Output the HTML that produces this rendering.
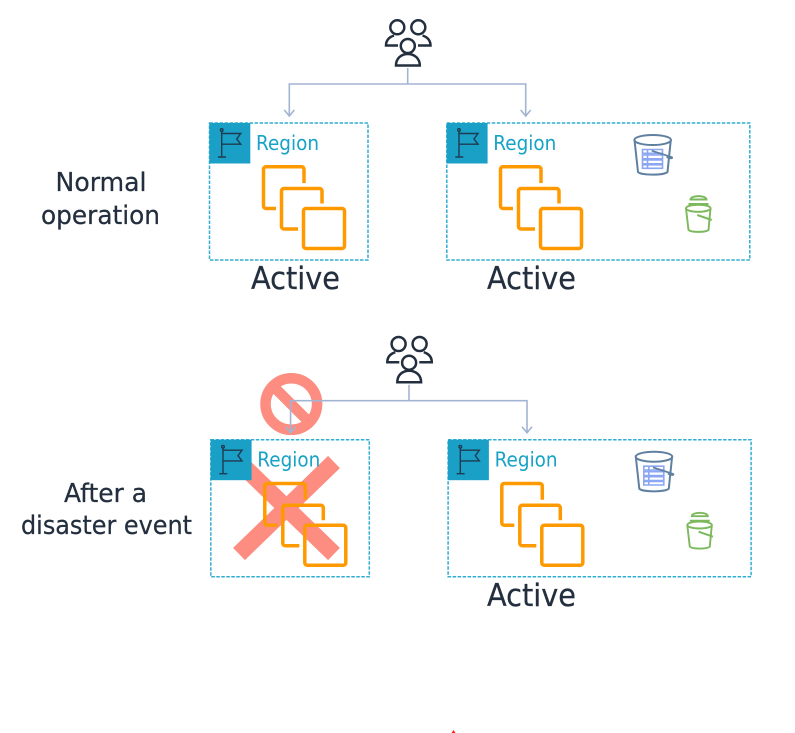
<!DOCTYPE html>
<html><head><meta charset="utf-8"><style>
html,body{margin:0;padding:0;background:#fff;width:795px;height:733px;overflow:hidden}
svg{display:block;filter:blur(.35px)}
text{font-family:"DejaVu Sans","Liberation Sans",sans-serif}
.d{fill:#232f3e;stroke:#232f3e;stroke-width:.25px}
</style></head><body>
<svg width="795" height="733" viewBox="0 0 795 733" xmlns="http://www.w3.org/2000/svg">
<defs>
<g id="users" fill="none" stroke="#232f3e" stroke-width="2.500">
<circle cx="397.300" cy="27.300" r="7"/><circle cx="418.300" cy="27.300" r="7"/><circle cx="407.800" cy="46" r="7"/>
<path d="M396 65.500c0-7 5-11.500 11.800-11.500s12 4.500 12 11.500z"/>
<path d="M398 45.500H386c0-5.500 3.500-8.500 8-10M418 45.500h12.500c0-5.500-3.500-8.500-8-10"/>
</g>
<g id="conn" fill="none" stroke="#a2b4d2" stroke-width="1.600">
<path d="M407.700 68V84M289.300 116V84H525.700V116M284.300 110l5 6 5-6M520.700 110l5 6 5-6"/>
</g>
<g id="tile">
<rect x="209.300" y="123" width="41" height="40.500" fill="#1a9fc6"/>
<g fill="none" stroke="#1f3b50" stroke-width="1.400">
<path d="M221.700 131.500V157M218 157h8M221.700 133.500h19l-4 5.500 4 5.200h-19"/>
<circle cx="221.700" cy="130" r="1.300"/>
</g>
<text x="256" y="150" font-size="20" fill="#17a2c6" textLength="63" lengthAdjust="spacingAndGlyphs">Region</text>
</g>
<g id="squares" fill="none" stroke="#ff9900" stroke-width="3.500" stroke-linejoin="round">
<path d="M304 183V169.300a2.500 2.500 0 0 0-2.500-2.500H266a2.500 2.500 0 0 0-2.500 2.500V206a2.500 2.500 0 0 0 2.500 2.500H276"/>
<path d="M322 203.500V191a2.500 2.500 0 0 0-2.500-2.500H284a2.500 2.500 0 0 0-2.500 2.500V226.500a2.500 2.500 0 0 0 2.500 2.500H298"/>
<rect x="303.500" y="208.500" width="41" height="40" rx="2.500"/>
</g>
<g id="s3">
<g fill="none" stroke="#8ba6f2" stroke-width="1.600">
<path d="M642.500 149.500h20v3.800h-20zM642.500 155h20v3.800h-20zM642.500 160h20v3.800h-20zM642.500 164.800h20v3.500h-20zM647.500 149.500v18.800"/>
</g>
<g fill="none" stroke="#5f80a0" stroke-width="2">
<ellipse cx="652.700" cy="140" rx="18.300" ry="5"/>
<path d="M634.500 140l3.500 32c3 3.500 26 3.500 29.500 0l3.300-32"/>
<path d="M651.700 150.700l20 6.500c2 1.500-3 1.500-5-.5" stroke-width="1.800"/>
</g>
<g fill="none" stroke="#7cb85c" stroke-width="1.900">
<path d="M690.500 199.500c0-4.500 16-4.500 16 0zM688.500 204h20"/>
<ellipse cx="698.300" cy="208.300" rx="12.300" ry="3.500"/>
<path d="M686 208.500l2.500 21.500c3 2.500 17 2.500 20 0l2-21.500"/>
<path d="M697.300 215l14.400 5" stroke-width="2"/>
</g>
</g>
<g id="r1">
<rect x="209.500" y="123" width="158.500" height="137" fill="none" stroke="#30aed1" stroke-width="1.500" stroke-dasharray="3.500 1.500"/>
<use href="#tile"/><use href="#squares"/>
</g>
<g id="r2">
<rect x="446.800" y="123" width="303" height="137" fill="none" stroke="#30aed1" stroke-width="1.500" stroke-dasharray="3.500 1.500"/>
<use href="#tile" transform="translate(237.300 0)"/><use href="#squares" transform="translate(237 0)"/>
<use href="#s3"/>
</g>
</defs>

<use href="#users"/><use href="#conn"/>
<use href="#r1"/><use href="#r2"/>
<text class="d" x="251" y="289" font-size="31" textLength="89" lengthAdjust="spacingAndGlyphs">Active</text>
<text class="d" x="487" y="289" font-size="31" textLength="89" lengthAdjust="spacingAndGlyphs">Active</text>
<text class="d" x="55.500" y="191" font-size="26" textLength="91" lengthAdjust="spacingAndGlyphs">Normal</text>
<text class="d" x="41" y="224" font-size="26" textLength="119" lengthAdjust="spacingAndGlyphs">operation</text>

<g stroke="#fc8d80" fill="none">
<circle cx="291.300" cy="404" r="25.800" stroke-width="10.500"/>
<path d="M272 385L310 423" stroke-width="10.500"/>
<path d="M239 554L334 462M239 462L334 554" stroke-width="17"/>
</g>
<g transform="translate(1.300 316.700)">
<use href="#users"/><use href="#conn"/>
<use href="#r1"/><use href="#r2"/>
</g>
<text class="d" x="64" y="502" font-size="26" textLength="83" lengthAdjust="spacingAndGlyphs">After a</text>
<text class="d" x="21" y="534" font-size="26" textLength="171" lengthAdjust="spacingAndGlyphs">disaster event</text>
<text class="d" x="487" y="606" font-size="31" textLength="89" lengthAdjust="spacingAndGlyphs">Active</text>
<path d="M451.500 733L453.500 730L455.500 733Z" fill="#f22"/>
</svg>
</body></html>
